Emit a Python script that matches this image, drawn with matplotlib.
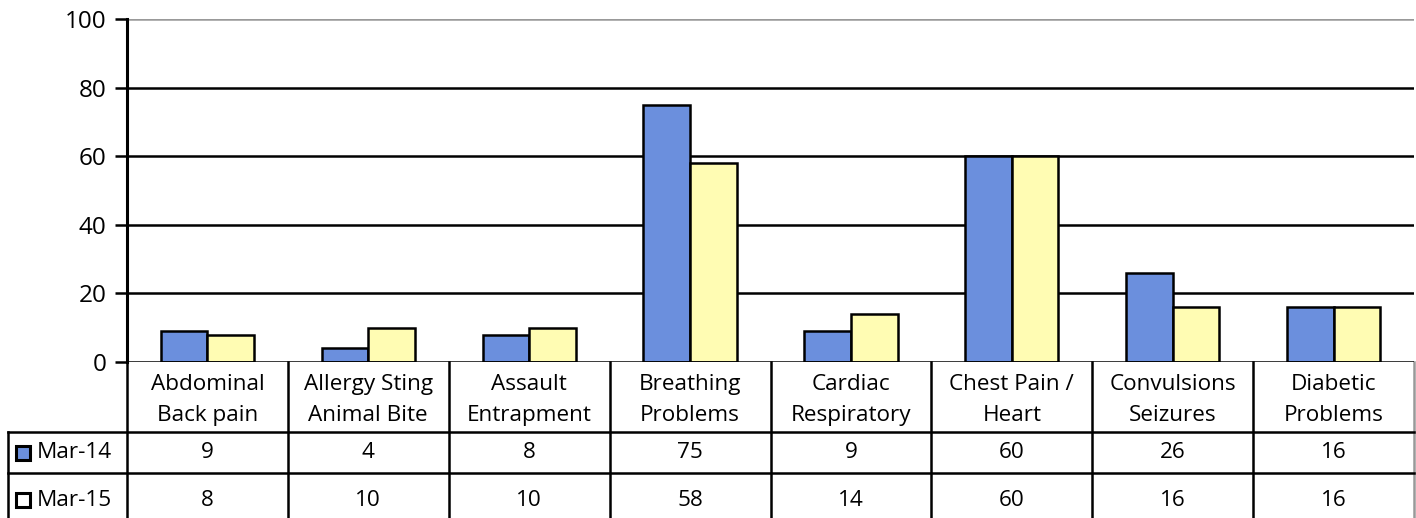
import matplotlib
matplotlib.use("Agg")
import matplotlib.pyplot as plt
import matplotlib.transforms as mtransforms
import numpy as np

categories = ["Abdominal\nBack pain", "Allergy Sting\nAnimal Bite", "Assault\nEntrapment",
              "Breathing\nProblems", "Cardiac\nRespiratory", "Chest Pain /\nHeart",
              "Convulsions\nSeizures", "Diabetic\nProblems"]
series_names = ["Mar-14", "Mar-15"]
mar14 = [9, 4, 8, 75, 9, 60, 26, 16]
mar15 = [8, 10, 10, 58, 14, 60, 16, 16]
yticks = [0, 20, 40, 60, 80, 100]

blue = "#6B8FDD"
yellow = "#FFFCB3"
plt.rcParams['font.family'] = ['Open Sans', 'DejaVu Sans']

W, H = 1416, 518
fig = plt.figure(figsize=(W / 100, H / 100), dpi=100)
ax = fig.add_axes([127 / W, 1 - 362 / H, (1414 - 127) / W, (362 - 19) / H])

x = np.arange(len(categories))
bw = 0.29
ax.bar(x - bw / 2, mar14, bw, color=blue, edgecolor="black", linewidth=1.8, zorder=3)
ax.bar(x + bw / 2, mar15, bw, color=yellow, edgecolor="black", linewidth=1.8, zorder=3)

ax.set_xlim(-0.5, len(categories) - 0.5)
ax.set_ylim(0, 100)
ax.set_yticks(yticks)
ax.tick_params(axis="y", labelsize=17.5, length=9, width=1.8, pad=6)
ax.set_xticks([])
for t in yticks[1:]:
    ax.axhline(t, color="#999999" if t == 100 else "black", linewidth=1.8, zorder=1)
for s in ["top", "right", "bottom"]:
    ax.spines[s].set_visible(False)
ax.spines["left"].set_linewidth(2.2)
ax.axhline(0, color="black", linewidth=1.8, zorder=4)

# data table below the plot
row_y = [0, -70 / 343, -111 / 343, -156 / 343]
trans = mtransforms.blended_transform_factory(ax.transData, ax.transAxes)
lw = 1.8
px = len(categories) / 1287  # one pixel in data units
fs = 16.2
for i in range(len(categories) + 1):
    xb = i - 0.5
    col = "black" if i < len(categories) else "#999999"
    ax.plot([xb, xb], [row_y[0], row_y[-1]], color=col, lw=lw, transform=trans, clip_on=False)
left_x = -0.5 - 119 * px
for yy in row_y[1:3]:
    ax.plot([left_x, len(categories) - 0.5], [yy, yy], color="black", lw=lw, transform=trans, clip_on=False)
ax.plot([left_x, left_x], [row_y[1], row_y[-1]], color="black", lw=lw, transform=trans, clip_on=False)

r0 = -38 / 343   # text centre of the category row
r2 = -138 / 343  # text centre of the last (cut off) row
for i, c in enumerate(categories):
    ax.text(i, r0, c, transform=trans, ha="center", va="center",
            fontsize=fs, linespacing=1.65)
    ax.text(i, (row_y[1] + row_y[2]) / 2, str(mar14[i]), transform=trans, ha="center",
            va="center", fontsize=fs)
    ax.text(i, r2, str(mar15[i]), transform=trans, ha="center", va="center", fontsize=fs)

# legend keys in the table
key = 14
key_x = left_x + 8 * px
for yc, name, col in zip([(row_y[1] + row_y[2]) / 2, r2], series_names, [blue, "white"]):
    ax.add_patch(plt.Rectangle((key_x, yc - key / 2 / 343), key * px, key / 343, facecolor=col,
                               edgecolor="black", lw=2.2, transform=trans, clip_on=False))
    ax.text(key_x + (key + 7) * px, yc, name, transform=trans,
            ha="left", va="center", fontsize=fs)

fig.savefig("out.png", dpi=100)
